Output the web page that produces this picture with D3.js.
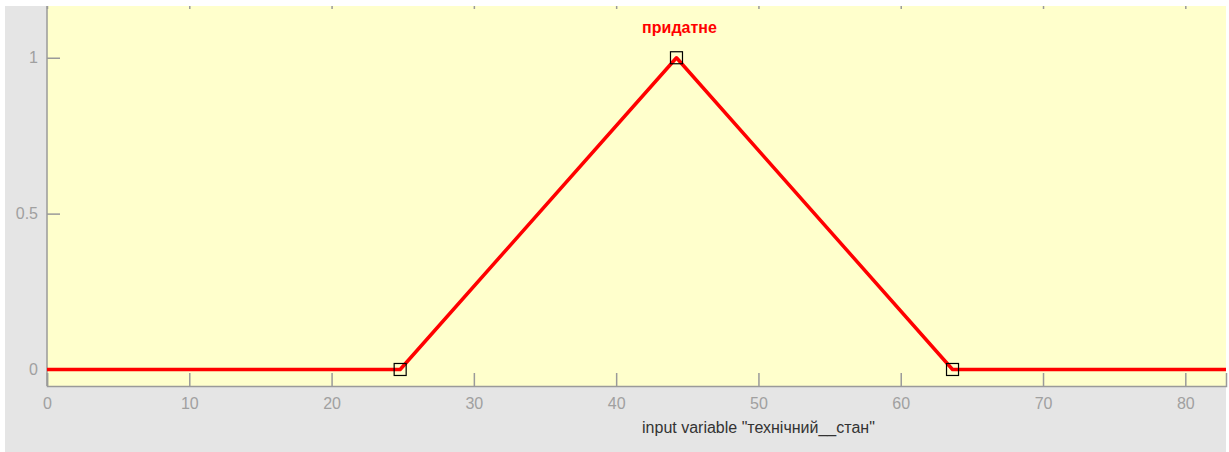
<!DOCTYPE html>
<html><head><meta charset="utf-8">
<script src="https://cdn.jsdelivr.net/npm/d3@7"></script>
<style>
html,body{margin:0;padding:0;background:#fff;}
svg{display:block;font-family:"Liberation Sans",Arial,sans-serif;}
</style></head>
<body>
<script>
const xDomain = [0, 82.86];
const yDomain = [-0.053, 1.166];
const xTicks = [0, 10, 20, 30, 40, 50, 60, 70, 80];
const yTicks = [0, 0.5, 1];
const yTickLabels = ["0", "0.5", "1"];
const mfName = "придатне";
const mfParams = [24.82, 44.24, 63.64];
const mfX = [0, 24.82, 44.24, 63.64, 82.86];
const mfY = [0, 0, 1, 0, 0];
const xLabel = 'input variable "технічний__стан"';
const xLabelAt = 50;

const W = 1229, H = 452;
const L = 47, R = 1226, T = 6, B = 386;

const svg = d3.select("body").append("svg").attr("width", W).attr("height", H);
svg.append("rect").attr("x", 5).attr("y", 6).attr("width", R - 5).attr("height", H - 6).attr("fill", "#e5e5e5");

const x = d3.scaleLinear().domain(xDomain).range([L, R]);
const y = d3.scaleLinear().domain(yDomain).range([B, T]);

svg.append("rect").attr("x", L).attr("y", T).attr("width", R - L).attr("height", B - T).attr("fill", "#ffffcc");

const tickColor = "#9a9a9a";
// bottom axis (ticks inward)
const xAxis = d3.axisBottom(x).tickValues(xTicks).tickSize(-13).tickPadding(12).tickFormat(d3.format("d"));
const gx = svg.append("g").attr("transform", `translate(0,${B})`).call(xAxis);
gx.select(".domain").attr("stroke", tickColor).attr("stroke-width", 1.5);
gx.selectAll(".tick line").attr("stroke", tickColor).attr("stroke-width", 1.5);
gx.selectAll(".tick text").attr("fill", "#a0a0a0").attr("font-size", 16).attr("dy", "0.71em");

// top ticks (clipped)
const xTop = d3.axisTop(x).tickValues(xTicks).tickSize(-3).tickFormat("");
const gt = svg.append("g").attr("transform", `translate(0,${T})`).call(xTop);
gt.select(".domain").remove();
gt.selectAll(".tick line").attr("stroke", tickColor).attr("stroke-width", 1.5);

// left axis
const yAxis = d3.axisLeft(y).tickValues(yTicks).tickSize(-13).tickPadding(9).tickFormat((d, i) => yTickLabels[i]);
const gy = svg.append("g").attr("transform", `translate(${L},0)`).call(yAxis);
gy.select(".domain").attr("stroke", tickColor).attr("stroke-width", 1.5).attr("d", `M0,${T}V${B}`);
gy.selectAll(".tick line").attr("stroke", tickColor).attr("stroke-width", 1.5);
gy.selectAll(".tick text").attr("fill", "#a0a0a0").attr("font-size", 16);

// membership function
const pts = mfX.map((v, i) => [v, mfY[i]]);
svg.append("path").datum(pts)
  .attr("d", d3.line().x(d => x(d[0])).y(d => y(d[1])))
  .attr("fill", "none").attr("stroke", "#ff0000").attr("stroke-width", 3.5).attr("stroke-linejoin", "round");

// markers at params
const markY = [0, 1, 0];
svg.selectAll("rect.mk").data(mfParams).enter().append("rect").attr("class", "mk")
  .attr("x", d => x(d) - 6).attr("y", (d, i) => y(markY[i]) - 6)
  .attr("width", 12).attr("height", 12)
  .attr("fill", "none").attr("stroke", "#000").attr("stroke-width", 1.2);

// mf name
svg.append("text").attr("x", x(mfParams[1]) + 3).attr("y", 33)
  .attr("text-anchor", "middle").attr("fill", "#ff0000").attr("font-weight", "bold").attr("font-size", 16)
  .text(mfName);

// x label
svg.append("text").attr("x", x(xLabelAt)).attr("y", 433)
  .attr("text-anchor", "middle").attr("fill", "#333").attr("font-size", 16)
  .text(xLabel);
</script>
</body></html>
